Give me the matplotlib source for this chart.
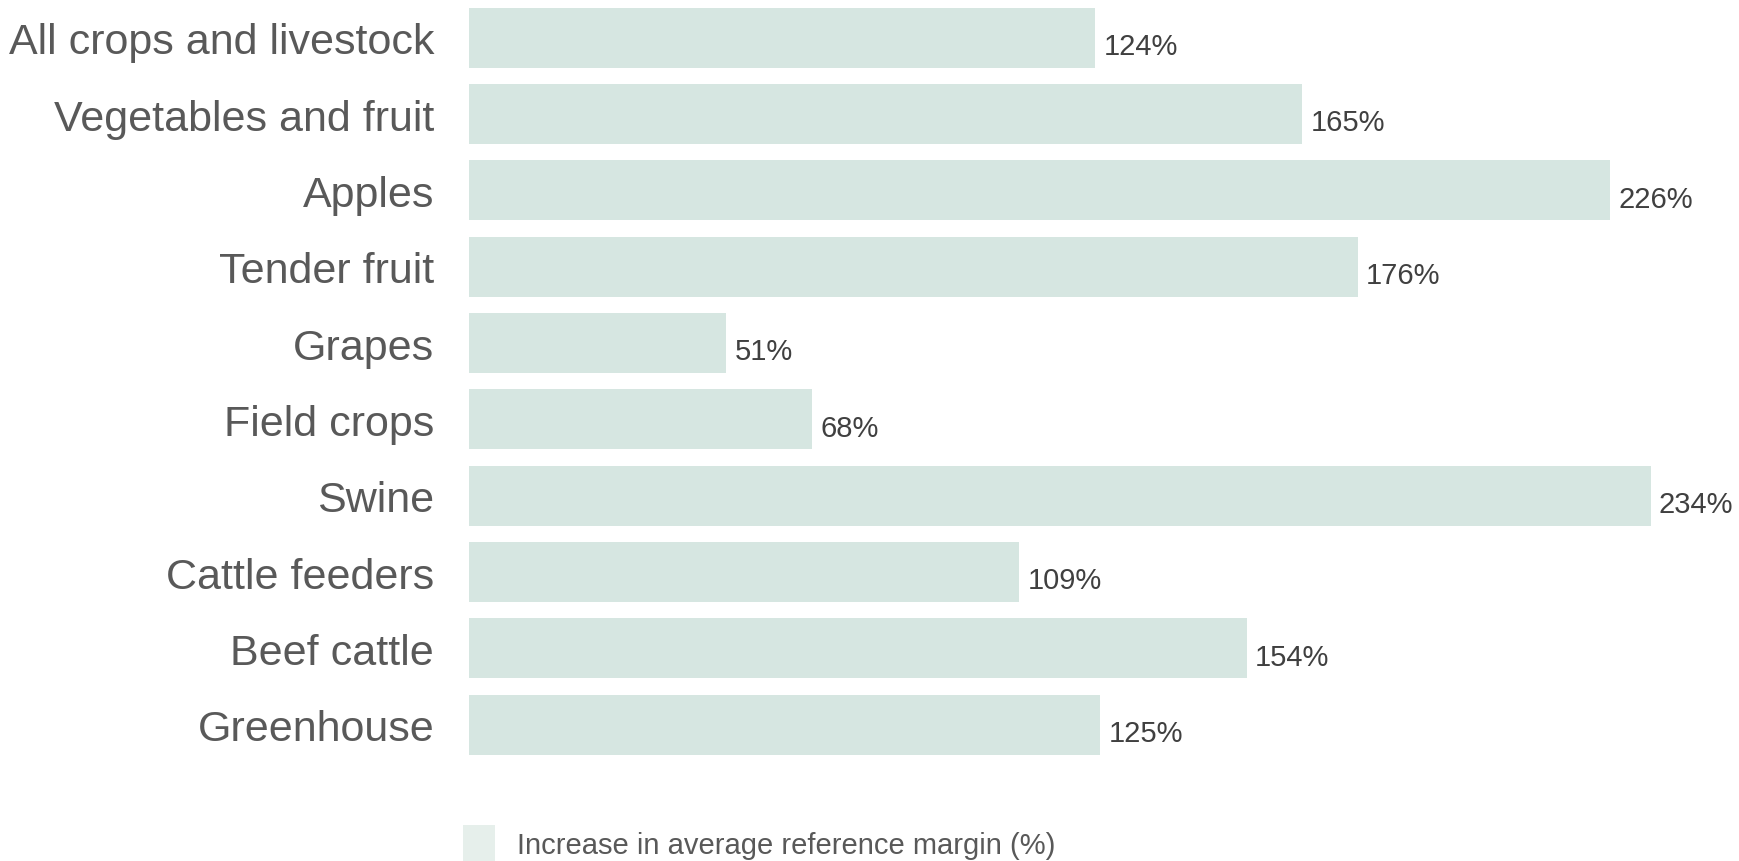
import matplotlib.pyplot as plt
from matplotlib.patches import Patch

plt.rcParams['font.family'] = ['Liberation Sans', 'DejaVu Sans']

# Sectors and the increase in their average reference margin
sectors = ['All crops and livestock', 'Vegetables and fruit', 'Apples',
           'Tender fruit', 'Grapes', 'Field crops', 'Swine',
           'Cattle feeders', 'Beef cattle', 'Greenhouse']
increase_pct = [124, 165, 226, 176, 51, 68, 234, 109, 154, 125]

bar_color = '#d6e6e1'
swatch_color = '#e6efeb'
label_color = '#595959'
value_color = '#404040'

fig = plt.figure(figsize=(17.4, 8.62), dpi=100)
ax = fig.add_axes([0.2695, 0.1137, 0.7255, 0.8856])

ypos = list(range(len(sectors)))
bars = ax.barh(ypos, increase_pct, height=0.786, color=bar_color)

for bar, val in zip(bars, increase_pct):
    ax.annotate(f'{val}%', xy=(bar.get_width(), bar.get_y() + bar.get_height() / 2),
                xytext=(6, -6), textcoords='offset points',
                ha='left', va='center', fontsize=21, color=value_color)

ax.set_xlim(0, 250)
ax.set_ylim(len(sectors) - 0.5, -0.5)
ax.set_yticks(ypos)
ax.set_yticklabels(sectors, fontsize=31, color=label_color)
ax.tick_params(axis='y', length=0, pad=25)
ax.set_xticks([])
for side in ax.spines.values():
    side.set_visible(False)

handle = Patch(facecolor=swatch_color, edgecolor='none')
fig.legend([handle], ['Increase in average reference margin (%)'],
           loc='lower left', bbox_to_anchor=(463 / 1740, 0.0),
           frameon=False, fontsize=21, labelcolor=label_color,
           handlelength=1.1, handleheight=1.5, handletextpad=0.75,
           borderpad=0, borderaxespad=0)

fig.savefig('out.png', dpi=100)
